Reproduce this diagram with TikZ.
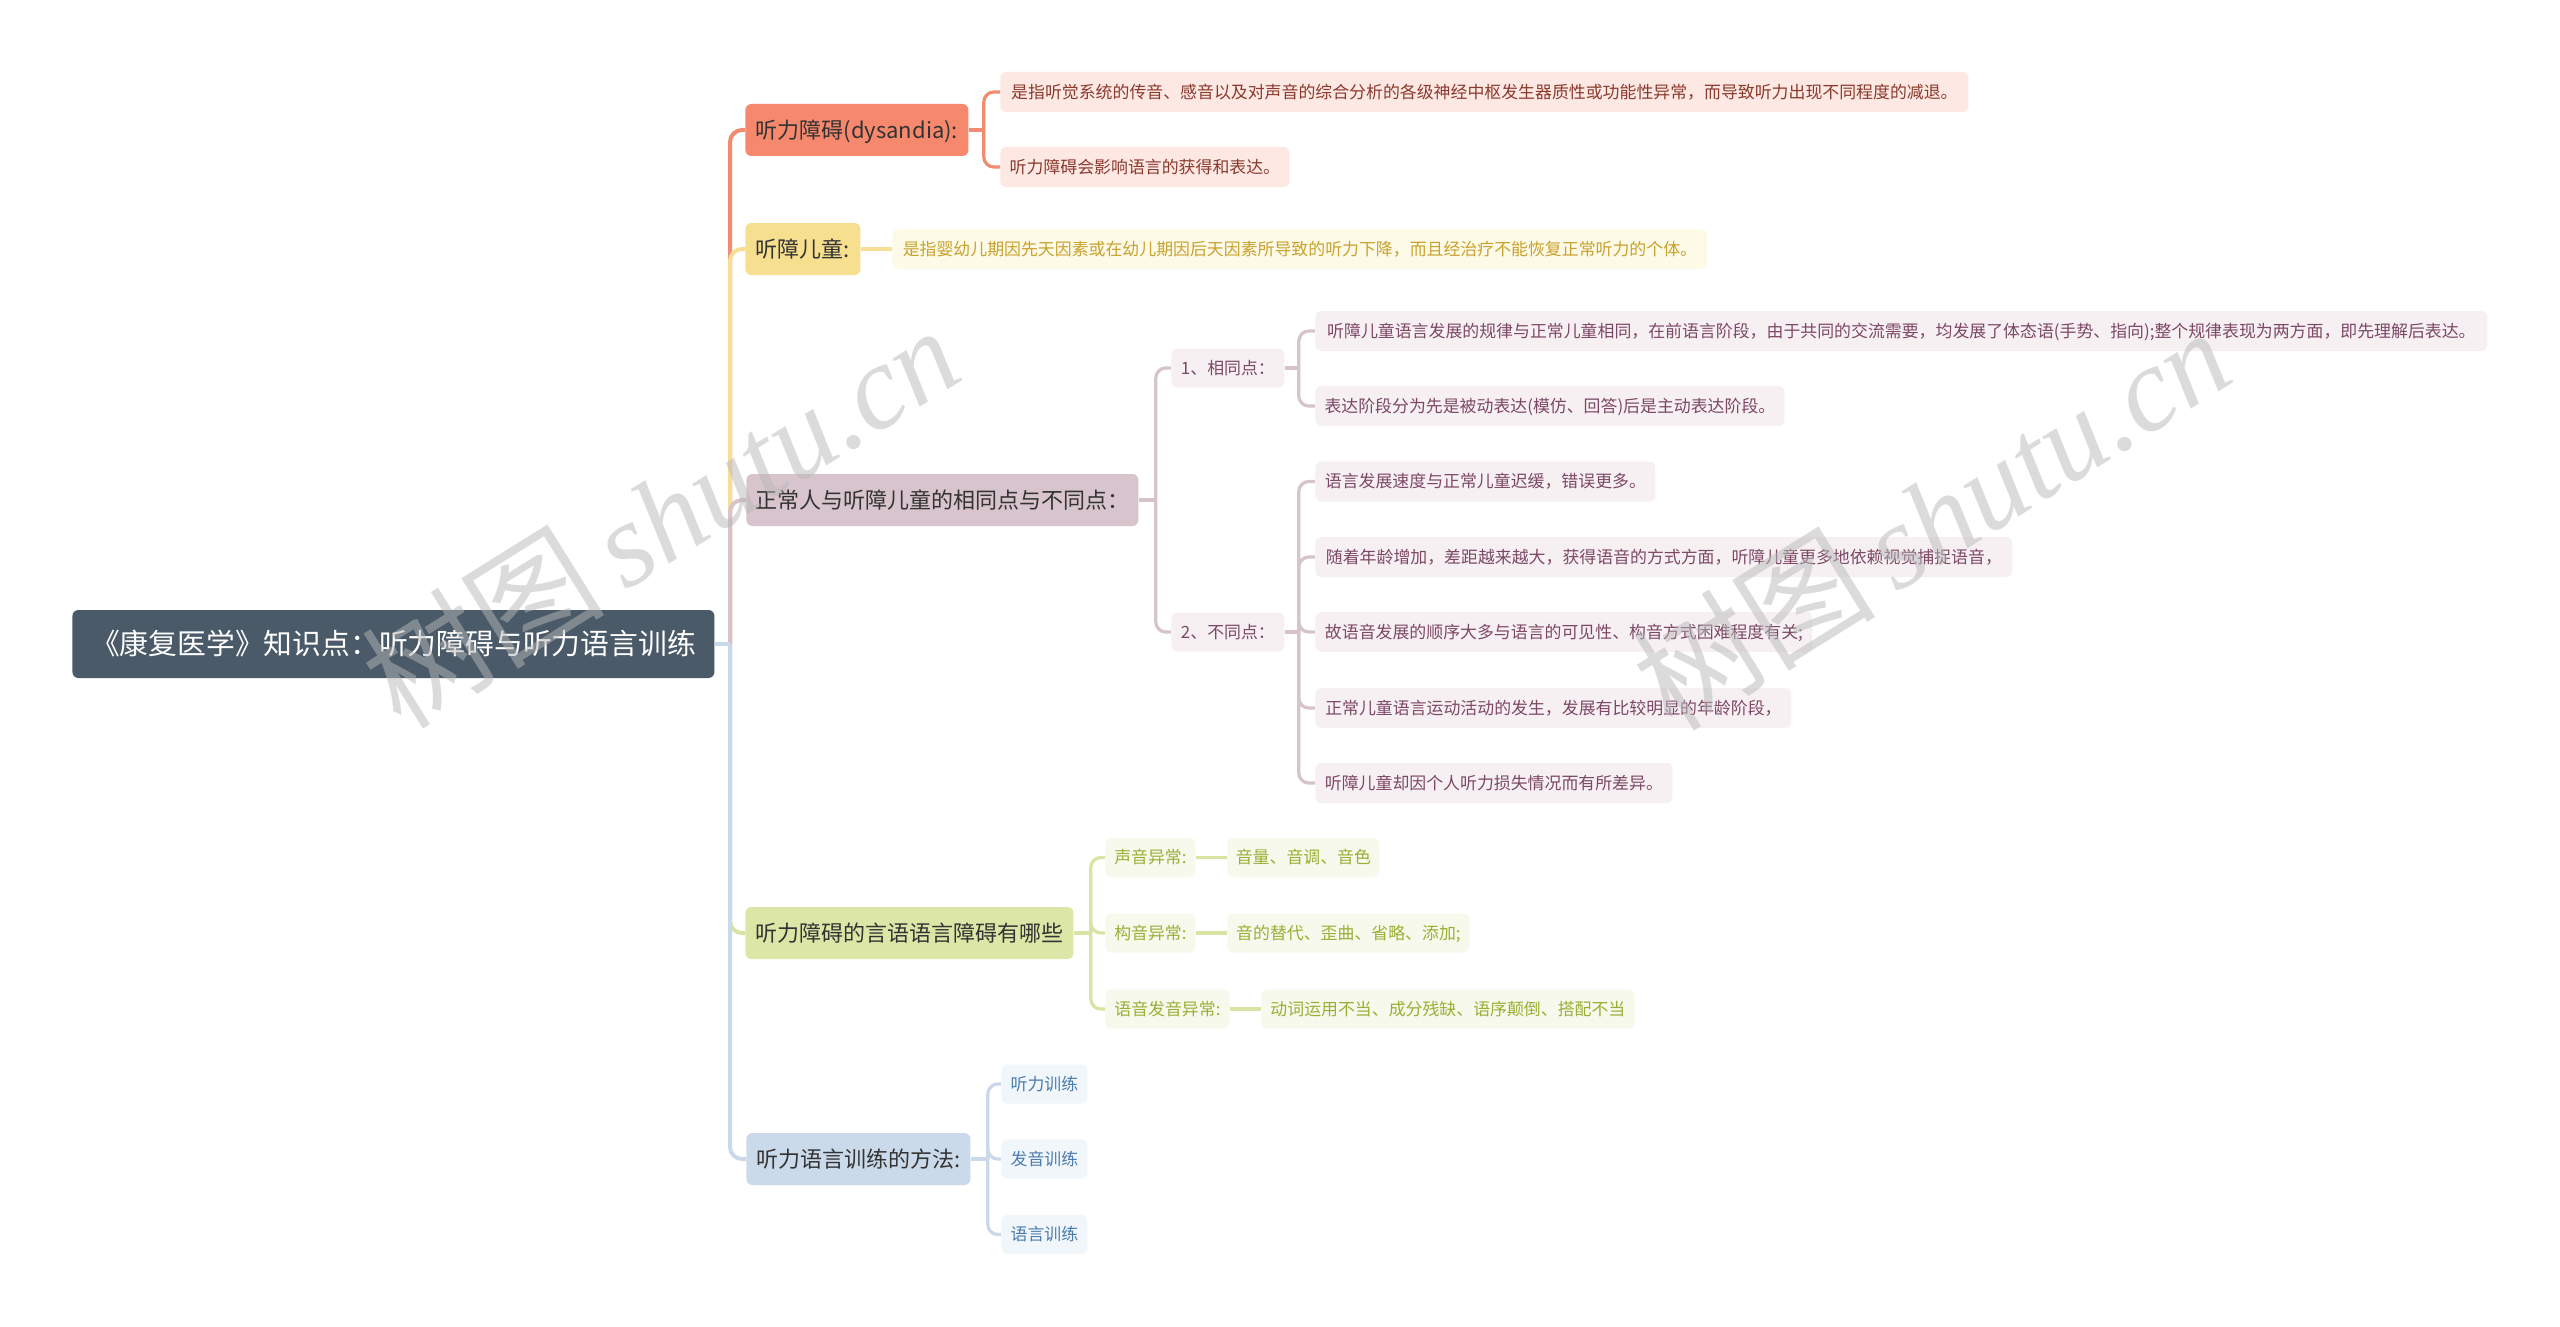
\documentclass[tikz,border=0pt]{standalone}
\usepackage{fontspec}
\setmainfont{Noto Sans CJK SC}
\newfontfamily\wmserif{Liberation Serif}
\usetikzlibrary{positioning, backgrounds}
\definecolor{rootgray}{HTML}{4A5A68}
\definecolor{topictext}{HTML}{333333}
\definecolor{salmonfill}{HTML}{F5886D}
\definecolor{salmonline}{HTML}{F28B70}
\definecolor{salmonleaf}{HTML}{FDE8E3}
\definecolor{salmontext}{HTML}{8A3A2C}
\definecolor{yellowfill}{HTML}{F6DF8F}
\definecolor{yellowline}{HTML}{F6DF95}
\definecolor{yellowleaf}{HTML}{FEFAE8}
\definecolor{yellowtext}{HTML}{C8A22E}
\definecolor{mauvefill}{HTML}{D8C4CC}
\definecolor{mauveline}{HTML}{D6C3CB}
\definecolor{mauveleaf}{HTML}{F6F0F2}
\definecolor{mauvetext}{HTML}{7D4866}
\definecolor{greenfill}{HTML}{DCE6A6}
\definecolor{greenline}{HTML}{D8E4A4}
\definecolor{greenleaf}{HTML}{F6F9EB}
\definecolor{greentext}{HTML}{9BAF36}
\definecolor{bluefill}{HTML}{CBDAEA}
\definecolor{blueline}{HTML}{C9D9E9}
\definecolor{blueleaf}{HTML}{F1F6FB}
\definecolor{bluetext}{HTML}{4A7CAE}

\tikzset{
  rootbox/.style={anchor=west, fill=rootgray, text=white, rounded corners=3pt,
    font=\fontsize{14.4}{16}\selectfont, minimum height=34pt, inner xsep=3pt,
    text height=12.6pt, text depth=1.8pt},
  topicbox/.style={anchor=west, text=topictext, rounded corners=3pt,
    font=\fontsize{11}{13}\selectfont, minimum height=26pt, inner xsep=3pt,
    text height=9.7pt, text depth=1.3pt},
  leafbox/.style={anchor=west, rounded corners=3pt,
    font=\fontsize{8.45}{10}\selectfont, minimum height=20pt, inner xsep=3pt,
    text height=7.4pt, text depth=1pt},
  lnk/.style={line width=2pt},
  twig/.style={line width=1.6pt},
  wmark/.style={rotate=32, text=gray!55, opacity=0.5}
}

\begin{document}
\begin{tikzpicture}[x=0.5pt, y=-0.5pt]
  \useasboundingbox (0,0) rectangle (2560,1327);

  % Raiz
  \node[rootbox, minimum width=321pt] (raiz) at (72,644) {《康复医学》知识点：听力障碍与听力语言训练};

  % Rama 1
  \node[topicbox, fill=salmonfill, minimum width=111.5pt] (n1) at (745,130) {听力障碍(dysandia):};
  \node[leafbox, fill=salmonleaf, text=salmontext, minimum width=484pt] (a1) at (1000,92) {是指听觉系统的传音、感音以及对声音的综合分析的各级神经中枢发生器质性或功能性异常，而导致听力出现不同程度的减退。};
  \node[leafbox, fill=salmonleaf, text=salmontext, minimum width=144.5pt] (a2) at (1000,167) {听力障碍会影响语言的获得和表达。};

  % Rama 2
  \node[topicbox, fill=yellowfill, minimum width=57.5pt] (n2) at (745,249) {听障儿童:};
  \node[leafbox, fill=yellowleaf, text=yellowtext, minimum width=407.5pt] (b1) at (892,249) {是指婴幼儿期因先天因素或在幼儿期因后天因素所导致的听力下降，而且经治疗不能恢复正常听力的个体。};

  % Rama 3
  \node[topicbox, fill=mauvefill, minimum width=196pt] (n3) at (746,500) {正常人与听障儿童的相同点与不同点：};
  \node[leafbox, fill=mauveleaf, text=mauvetext, minimum width=56.5pt, minimum height=19.5pt] (s1) at (1171,368) {1、相同点：};
  \node[leafbox, fill=mauveleaf, text=mauvetext, minimum width=586pt] (c1) at (1315,331) {听障儿童语言发展的规律与正常儿童相同，在前语言阶段，由于共同的交流需要，均发展了体态语(手势、指向);整个规律表现为两方面，即先理解后表达。};
  \node[leafbox, fill=mauveleaf, text=mauvetext, minimum width=234.5pt] (c2) at (1315,406) {表达阶段分为先是被动表达(模仿、回答)后是主动表达阶段。};
  \node[leafbox, fill=mauveleaf, text=mauvetext, minimum width=56.5pt, minimum height=19.5pt] (s2) at (1171,632) {2、不同点：};
  \node[leafbox, fill=mauveleaf, text=mauvetext, minimum width=170pt] (d1) at (1315,481.5) {语言发展速度与正常儿童迟缓，错误更多。};
  \node[leafbox, fill=mauveleaf, text=mauvetext, minimum width=348.5pt] (d2) at (1315,557) {随着年龄增加，差距越来越大，获得语音的方式方面，听障儿童更多地依赖视觉捕捉语音，};
  \node[leafbox, fill=mauveleaf, text=mauvetext, minimum width=248.5pt] (d3) at (1315,632) {故语音发展的顺序大多与语言的可见性、构音方式困难程度有关;};
  \node[leafbox, fill=mauveleaf, text=mauvetext, minimum width=238pt] (d4) at (1315,708) {正常儿童语言运动活动的发生，发展有比较明显的年龄阶段，};
  \node[leafbox, fill=mauveleaf, text=mauvetext, minimum width=178.5pt] (d5) at (1315,783) {听障儿童却因个人听力损失情况而有所差异。};

  % Rama 4
  \node[topicbox, fill=greenfill, minimum width=164pt] (n4) at (745,933) {听力障碍的言语语言障碍有哪些};
  \node[leafbox, fill=greenleaf, text=greentext, minimum width=45pt, minimum height=19.5pt] (g1) at (1105,857.5) {声音异常:};
  \node[leafbox, fill=greenleaf, text=greentext, minimum width=76pt, minimum height=19.5pt] (g1a) at (1227,857.5) {音量、音调、音色};
  \node[leafbox, fill=greenleaf, text=greentext, minimum width=45pt, minimum height=19.5pt] (g2) at (1105,933) {构音异常:};
  \node[leafbox, fill=greenleaf, text=greentext, minimum width=121pt, minimum height=19.5pt] (g2a) at (1227,933) {音的替代、歪曲、省略、添加;};
  \node[leafbox, fill=greenleaf, text=greentext, minimum width=62pt, minimum height=19.5pt] (g3) at (1105,1009) {语音发音异常:};
  \node[leafbox, fill=greenleaf, text=greentext, minimum width=186.5pt, minimum height=19.5pt] (g3a) at (1261,1009) {动词运用不当、成分残缺、语序颠倒、搭配不当};

  % Rama 5
  \node[topicbox, fill=bluefill, minimum width=112pt] (n5) at (746,1159) {听力语言训练的方法:};
  \node[leafbox, fill=blueleaf, text=bluetext, minimum width=43pt, minimum height=19.5pt] (h1) at (1001,1084) {听力训练};
  \node[leafbox, fill=blueleaf, text=bluetext, minimum width=43pt, minimum height=19.5pt] (h2) at (1001,1159) {发音训练};
  \node[leafbox, fill=blueleaf, text=bluetext, minimum width=43pt, minimum height=19.5pt] (h3) at (1001,1234.5) {语言训练};

  % Conectores
  \begin{scope}[on background layer]
    \fill[white] (0,0) rectangle (2560,1327);
    \coordinate (eje) at (730,644);
    \draw[lnk, salmonline, rounded corners=6pt] (eje) |- (n1.west);
    \draw[lnk, yellowline, rounded corners=6pt] (eje) |- (n2.west);
    \draw[lnk, mauveline, rounded corners=6pt] (eje) |- (n3.west);
    \draw[lnk, greenline, rounded corners=6pt] (eje) |- (n4.west);
    \draw[lnk, blueline, rounded corners=6pt] (eje) |- (n5.west);
    \draw[lnk, blueline] (raiz.east) -- (eje);

    \draw[twig, salmonline] (n1.east) -- ++(15,0) coordinate (n1e);
    \foreach \k in {a1,a2}
      \draw[twig, salmonline, rounded corners=5pt] (n1e) |- (\k.west);

    \draw[twig, yellowline] (n2.east) -- (b1.west);

    \draw[twig, mauveline] (n3.east) -- ++(17,0) coordinate (n3e);
    \foreach \k in {s1,s2}
      \draw[twig, mauveline, rounded corners=5pt] (n3e) |- (\k.west);
    \draw[twig, mauveline] (s1.east) -- ++(14,0) coordinate (s1e);
    \foreach \k in {c1,c2}
      \draw[twig, mauveline, rounded corners=5pt] (s1e) |- (\k.west);
    \draw[twig, mauveline] (s2.east) -- ++(14,0) coordinate (s2e);
    \foreach \k in {d1,d2,d3,d4,d5}
      \draw[twig, mauveline, rounded corners=5pt] (s2e) |- (\k.west);

    \draw[twig, greenline] (n4.east) -- ++(17,0) coordinate (n4e);
    \foreach \k in {g1,g2,g3}
      \draw[twig, greenline, rounded corners=5pt] (n4e) |- (\k.west);
    \draw[twig, greenline] (g1.east) -- (g1a.west);
    \draw[twig, greenline] (g2.east) -- (g2a.west);
    \draw[twig, greenline] (g3.east) -- (g3a.west);

    \draw[twig, blueline] (n5.east) -- ++(17,0) coordinate (n5e);
    \foreach \k in {h1,h2,h3}
      \draw[twig, blueline, rounded corners=5pt] (n5e) |- (\k.west);
  \end{scope}

  % Marca de agua
  \node[wmark] (marca1) at (660,515) {\fontsize{61}{61}\selectfont 树图\,\wmserif\itshape\fontsize{60}{60}\selectfont shutu.cn};
  \node[wmark] (marca2) at (1931,517) {\fontsize{61}{61}\selectfont 树图\,\wmserif\itshape\fontsize{60}{60}\selectfont shutu.cn};
\end{tikzpicture}
\end{document}
